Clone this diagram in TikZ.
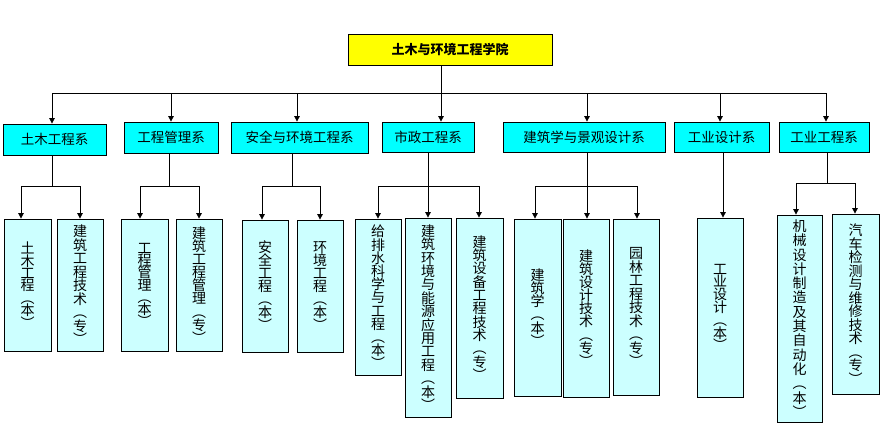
\documentclass[tikz,border=0pt]{standalone}
\usepackage{fontspec}
\newfontfamily\cjk{Noto Sans CJK SC}
\usetikzlibrary{arrows.meta}
\definecolor{deptcyan}{HTML}{00FFFF}
\definecolor{leafcyan}{HTML}{CCFFFF}
\definecolor{topyellow}{HTML}{FFFF00}
\newcommand\leaffont[1]{\cjk\fontsize{14}{#1}\selectfont\lineskiplimit=-50pt\relax\lineskip=0pt\relax}
\begin{document}
\begin{tikzpicture}[x=1pt,y=-1pt,
  topbox/.style={draw=black, fill=topyellow, line width=0.8pt, inner sep=0pt, font=\cjk\bfseries\fontsize{13}{15}\selectfont},
  deptbox/.style={draw=black, fill=deptcyan, line width=0.8pt, inner sep=0pt, minimum height=31pt, font=\cjk\fontsize{13.5}{16}\selectfont},
  leafbox/.style={draw=black, fill=leafcyan, line width=0.8pt, inner sep=0pt, align=center, font={\leaffont{#1}}},
  leafbox/.default=13.3pt,
  conn/.style={draw=black, line width=0.8pt},
  arr/.style={conn, -{Triangle[width=5.5pt,length=5.5pt]}}]
\useasboundingbox (0,0) rectangle (881,434);

% top
\node[topbox, minimum width=204pt, minimum height=31pt] (top) at (450,49.5) {土木与环境工程学院};

% departments
\node[deptbox, minimum width=103pt] (d1) at (54.5,139.5) {土木工程系};
\node[deptbox, minimum width=94pt]  (d2) at (171,137.5) {工程管理系};
\node[deptbox, minimum width=137pt] (d3) at (299.5,137.5) {安全与环境工程系};
\node[deptbox, minimum width=92pt, minimum height=30pt] (d4) at (428,137) {市政工程系};
\node[deptbox, minimum width=162pt, minimum height=30pt] (d5) at (584,137) {建筑学与景观设计系};
\node[deptbox, minimum width=95pt, minimum height=30pt]  (d6) at (721.5,137) {工业设计系};
\node[deptbox, minimum width=90pt, minimum height=30pt]  (d7) at (824,137) {工业工程系};

% leaves
\node[leafbox=12.4pt, minimum width=47pt, minimum height=132pt] (l11) at (27.5,285) {土\\木\\工\\程\\︵\\本\\︶};
\node[leafbox=13.5pt, minimum width=46pt, minimum height=132pt] (l12) at (80,285) {建\\筑\\工\\程\\技\\术\\︵\\专\\︶};
\node[leafbox=12.3pt, minimum width=47pt, minimum height=132pt] (l21) at (144.5,285) {工\\程\\管\\理\\︵\\本\\︶};
\node[leafbox=13.1pt, minimum width=46pt, minimum height=132pt] (l22) at (199,285) {建\\筑\\工\\程\\管\\理\\︵\\专\\︶};
\node[leafbox=13pt, minimum width=46pt, minimum height=132pt] (l31) at (265,286) {安\\全\\工\\程\\︵\\本\\︶};
\node[leafbox=13pt, minimum width=46pt, minimum height=132pt] (l32) at (320,286) {环\\境\\工\\程\\︵\\本\\︶};
\node[leafbox=13.2pt, minimum width=46pt, minimum height=156pt] (l41) at (378,297) {给\\排\\水\\科\\学\\与\\工\\程\\︵\\本\\︶};
\node[leafbox=13.4pt, minimum width=46pt, minimum height=199pt] (l42) at (428,317.5) {建\\筑\\环\\境\\与\\能\\源\\应\\用\\工\\程\\︵\\本\\︶};
\node[leafbox=13.3pt, minimum width=47pt, minimum height=180pt] (l43) at (479.5,308) {建\\筑\\设\\备\\工\\程\\技\\术\\︵\\专\\︶};
\node[leafbox=13.2pt, minimum width=47pt, minimum height=177pt] (l51) at (537.5,307.5) {建\\筑\\学\\︵\\本\\︶};
\node[leafbox=13.1pt, minimum width=46pt, minimum height=178pt] (l52) at (586,308) {建\\筑\\设\\计\\技\\术\\︵\\专\\︶};
\node[leafbox=13.5pt, minimum width=46pt, minimum height=176pt] (l53) at (636,307) {园\\林\\工\\程\\技\\术\\︵\\专\\︶};
\node[leafbox=12.8pt, minimum width=46pt, minimum height=179pt] (l61) at (720,307.5) {工\\业\\设\\计\\︵\\本\\︶};
\node[leafbox=14.3pt, minimum width=45pt, minimum height=207pt] (l71) at (799.5,318.5) {机\\械\\设\\计\\制\\造\\及\\其\\自\\动\\化\\︵\\本\\︶};
\node[leafbox=13.5pt, minimum width=47pt, minimum height=180pt] (l72) at (855.5,304) {汽\\车\\检\\测\\与\\维\\修\\技\\术\\︵\\专\\︶};

% top bus
\coordinate (t1) at (52,93);
\coordinate (t2) at (171,93);
\coordinate (t3) at (297,93);
\coordinate (t4) at (441,93);
\coordinate (t5) at (587,93);
\coordinate (t6) at (720,93);
\coordinate (t7) at (826,93);
\draw[conn] (top.south -| t4) -- (t4);
\draw[conn] (t1) -- (t7);
\foreach \i in {1,...,7} {\draw[arr] (t\i) -- (d\i.north -| t\i);}

% department 1
\coordinate (j1) at (52,186);
\coordinate (a11) at (21,186);
\coordinate (a12) at (80,186);
\draw[conn] (d1.south -| j1) -- (j1);
\draw[conn] (a11) -- (a12);
\draw[arr] (a11) -- (l11.north -| a11);
\draw[arr] (a12) -- (l12.north -| a12);

% department 2
\coordinate (j2) at (169,186);
\coordinate (a21) at (140,186);
\coordinate (a22) at (199,186);
\draw[conn] (d2.south -| j2) -- (j2);
\draw[conn] (a21) -- (a22);
\draw[arr] (a21) -- (l21.north -| a21);
\draw[arr] (a22) -- (l22.north -| a22);

% department 3
\coordinate (j3) at (292,186);
\coordinate (a31) at (262,186);
\coordinate (a32) at (320,186);
\draw[conn] (d3.south -| j3) -- (j3);
\draw[conn] (a31) -- (a32);
\draw[arr] (a31) -- (l31.north -| a31);
\draw[arr] (a32) -- (l32.north -| a32);

% department 4
\coordinate (a41) at (378,186);
\coordinate (a42) at (428,186);
\coordinate (a43) at (479,186);
\draw[conn] (a41) -- (a43);
\draw[arr] (d4.south -| a42) -- (l42.north -| a42);
\draw[arr] (a41) -- (l41.north -| a41);
\draw[arr] (a43) -- (l43.north -| a43);

% department 5
\coordinate (a51) at (535,186);
\coordinate (a52) at (587,186);
\coordinate (a53) at (637,186);
\draw[conn] (a51) -- (a53);
\draw[arr] (d5.south -| a52) -- (l52.north -| a52);
\draw[arr] (a51) -- (l51.north -| a51);
\draw[arr] (a53) -- (l53.north -| a53);

% department 6
\coordinate (a61) at (723,186);
\draw[arr] (d6.south -| a61) -- (l61.north -| a61);

% department 7
\coordinate (j7) at (827,183);
\coordinate (a71) at (796,183);
\coordinate (a72) at (855,183);
\draw[conn] (d7.south -| j7) -- (j7);
\draw[conn] (a71) -- (a72);
\draw[arr] (a71) -- (l71.north -| a71);
\draw[arr] (a72) -- (l72.north -| a72);
\end{tikzpicture}
\end{document}
